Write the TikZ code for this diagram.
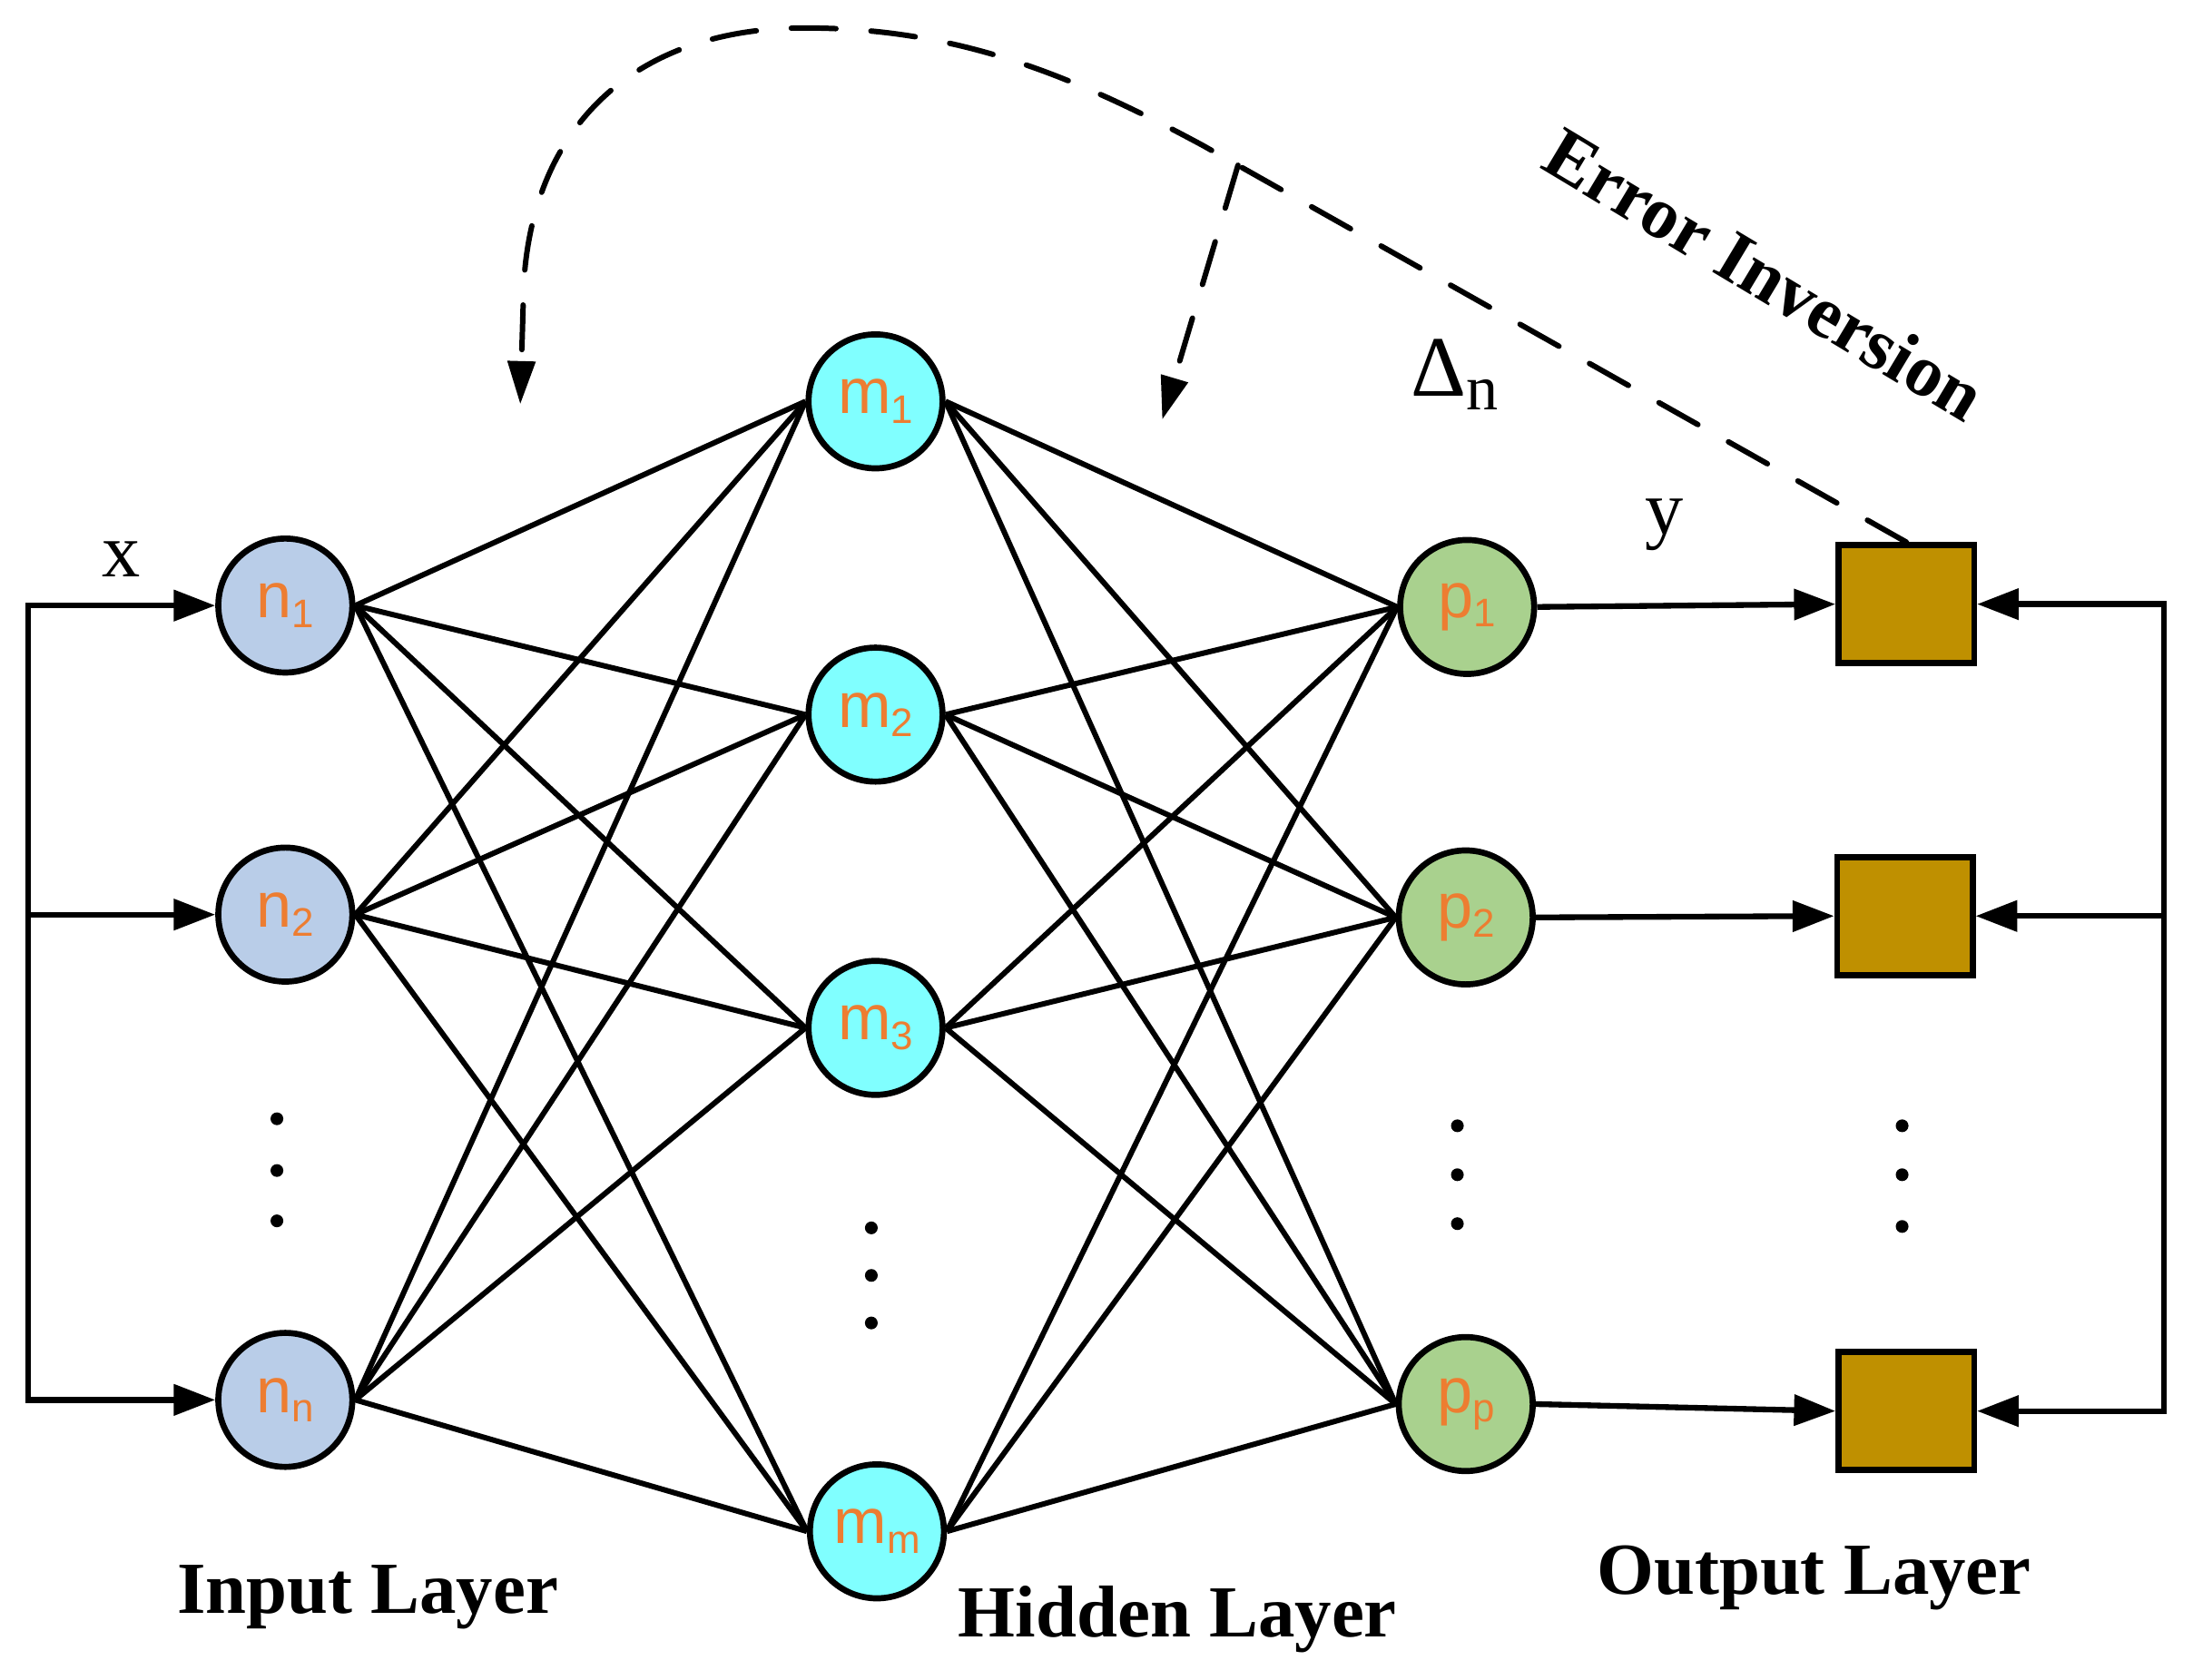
\documentclass[tikz,border=0pt]{standalone}
\usepackage{fontspec}
\setmainfont{Liberation Serif}
\setsansfont{Liberation Sans}
\usetikzlibrary{arrows.meta,calc}
\definecolor{inblue}{RGB}{185,205,232}
\definecolor{hidcyan}{RGB}{128,255,255}
\definecolor{outgreen}{RGB}{169,209,142}
\definecolor{boxgold}{RGB}{191,144,0}
\definecolor{lblorange}{RGB}{237,125,49}
\newcommand\neulab[2]{#1\raisebox{-3pt}{\fontsize{12.5}{12.5}\selectfont #2}}
\begin{document}
\begin{tikzpicture}[x=0.4384pt,y=-0.4384pt,
  neuron/.style={circle,draw=black,line width=1.9pt,minimum size=42pt,inner sep=0pt,
    font=\sffamily\fontsize{20}{20}\selectfont,text=lblorange},
  inneuron/.style={neuron,fill=inblue},
  hidneuron/.style={neuron,fill=hidcyan},
  outneuron/.style={neuron,fill=outgreen},
  outbox/.style={rectangle,draw=black,line width=1.9pt,fill=boxgold,minimum width=42.5pt,minimum height=37pt,inner sep=0pt},
  link/.style={line width=1.7pt},
  arr/.style={line width=1.8pt,-{Triangle[length=13pt,width=9.5pt]}},
  fb/.style={line width=1.7pt,dash pattern=on 14pt off 11pt,line cap=round,-{Triangle[length=13.5pt,width=8.5pt]}},
  dotm/.style={circle,fill=black,inner sep=0pt,minimum size=4pt},
  layerlbl/.style={font=\bfseries\fontsize{23}{23}\selectfont},
  varlbl/.style={font=\fontsize{24}{24}\selectfont,inner sep=0pt},
]
\useasboundingbox (0,0) rectangle (1568,1201);

% input layer
\node[inneuron] (n1) at (204,433) {\neulab{n}{1}};
\node[inneuron] (n2) at (204,654) {\neulab{n}{2}};
\node[inneuron] (nn) at (204,1001) {\neulab{n}{n}};
% hidden layer
\node[hidneuron] (m1) at (626,287) {\neulab{m}{1}};
\node[hidneuron] (m2) at (626,511) {\neulab{m}{2}};
\node[hidneuron] (m3) at (626,735) {\neulab{m}{3}};
\node[hidneuron] (mm) at (627,1095) {\neulab{m}{m}};
% output layer
\node[outneuron] (p1) at (1049,434) {\neulab{p}{1}};
\node[outneuron] (p2) at (1048,656) {\neulab{p}{2}};
\node[outneuron] (pp) at (1048,1004) {\neulab{p}{p}};
% output boxes
\node[outbox] (b1) at (1363,432) {};
\node[outbox] (b2) at (1362,655) {};
\node[outbox] (b3) at (1363,1009) {};

% ellipsis dots
\node[dotm] (d1a) at (198,800) {};
\node[dotm] (d1b) at (198,837) {};
\node[dotm] (d1c) at (198,873) {};
\node[dotm] (d2a) at (623,878) {};
\node[dotm] (d2b) at (623,912) {};
\node[dotm] (d2c) at (623,946) {};
\node[dotm] (d3a) at (1042,805) {};
\node[dotm] (d3b) at (1042,840) {};
\node[dotm] (d3c) at (1042,875) {};
\node[dotm] (d4a) at (1360,805) {};
\node[dotm] (d4b) at (1360,840) {};
\node[dotm] (d4c) at (1360,877) {};

% full connections
\foreach \a in {n1,n2,nn}
  \foreach \b in {m1,m2,m3,mm}
    \draw[link] (\a.east) -- (\b.west);
\foreach \a in {m1,m2,m3,mm}
  \foreach \b in {p1,p2,pp}
    \draw[link] (\a.east) -- (\b.west);

% input feed
\coordinate (lx) at (20,0);
\coordinate (l1) at (n1.west -| lx);
\coordinate (l2) at (n2.west -| lx);
\coordinate (l3) at (nn.west -| lx);
\draw[arr] (l2) -- (l1) -- (n1.west);
\draw[arr] (l2) -- (l3) -- (nn.west);
\draw[arr] (l2) -- (n2.west);

% outputs to boxes
\draw[arr] (p1.east) -- (b1.west);
\draw[arr] (p2.east) -- (b2.west);
\draw[arr] (pp.east) -- (b3.west);

% target feed from right
\coordinate (rx) at (1547,0);
\coordinate (r1) at (b1.east -| rx);
\coordinate (r2) at (b2.east -| rx);
\coordinate (r3) at (b3.east -| rx);
\draw[arr] (r2) -- (r1) -- (b1.east);
\draw[arr] (r2) -- (r3) -- (b3.east);
\draw[arr] (r2) -- (b2.east);

% error feedback (dashed)
\coordinate (B) at (860,104);
\coordinate (J) at ($(B)!0.05!(b1.north)$);
\coordinate (fbend) at (372,289);
\coordinate (fbend2) at (831,300);
\draw[fb] (b1.north) -- (B) .. controls (760,50) and (680,20) .. (575,20)
  .. controls (450,20) and (374,95) .. (374,220) -- (fbend);
\draw[fb] (J) -- (fbend2);

% labels
\node[varlbl] (xl) at (87,400) {x};
\node[varlbl] (yl) at (1190,375) {y};
\node[inner sep=0pt] (dl) at (1040,268) {{\fontsize{27}{27}\selectfont Δ}\raisebox{-4.3pt}{\fontsize{20}{20}\selectfont n}};
\node[layerlbl] (il) at (263,1142) {Input Layer};
\node[layerlbl] (hl) at (842,1158) {Hidden Layer};
\node[layerlbl] (ol) at (1297,1128) {Output Layer};
\node[layerlbl,rotate=-31] (el) at (1262,196) {Error Inversion};
\end{tikzpicture}
\end{document}
